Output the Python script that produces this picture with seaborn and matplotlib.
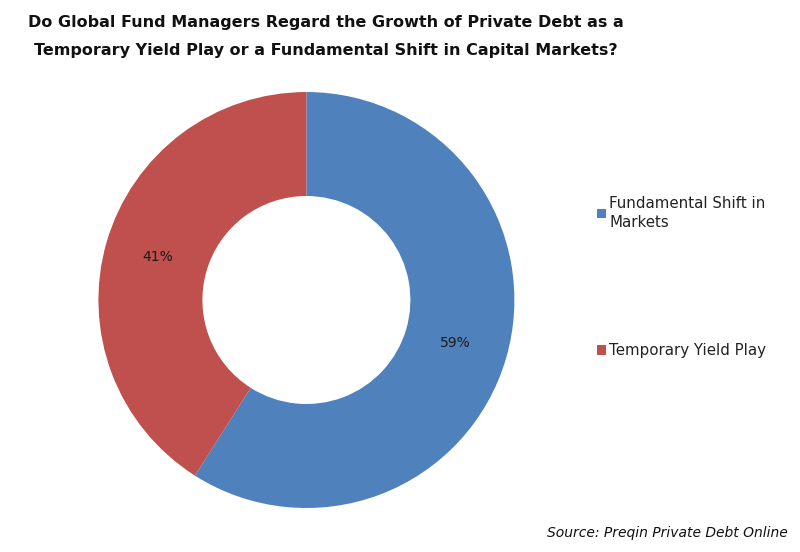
import matplotlib
matplotlib.use("Agg")
import matplotlib.pyplot as plt
import seaborn as sns

categories = ["Fundamental Shift in\nMarkets", "Temporary Yield Play"]
values = [59, 41]
colors = ["#4F81BD", "#C0504D"]
title = ("Do Global Fund Managers Regard the Growth of Private Debt as a\n"
         "Temporary Yield Play or a Fundamental Shift in Capital Markets?")
source = "Source: Preqin Private Debt Online"

sns.set_theme(style="white")
plt.rcParams['font.family'] = ['DejaVu Sans']

fig = plt.figure(figsize=(8, 5.52), dpi=100)
fig.patch.set_facecolor("white")
ax = fig.add_axes([0.123, 0.0797, 0.52, 0.7536])

wedges, texts, autotexts = ax.pie(
    values, colors=colors, startangle=90, counterclock=False,
    autopct="%1.0f%%", pctdistance=0.745, radius=1.0,
    wedgeprops=dict(width=0.5, edgecolor="none"),
    textprops=dict(fontsize=10, color="#1a1a1a"))
ax.set_xlim(-1, 1)
ax.set_ylim(-1, 1)
ax.set_aspect("equal")
ax.axis("off")

fig.text(0.407, 0.972, title, ha="center", va="top", fontsize=11.5,
         fontweight="bold", color="#111111", linespacing=2.07)

leg = fig.legend(wedges, categories, loc="upper left",
                 bbox_to_anchor=(0.729, 0.67), frameon=False,
                 fontsize=10.8, handlelength=0.6, handleheight=0.6,
                 handletextpad=0.25, labelspacing=7.55)
for t in leg.get_texts():
    t.set_color("#222222")
    t.set_linespacing(1.35)

fig.text(0.985, 0.035, source, ha="right", va="center", fontsize=10,
         fontstyle="italic", color="#111111")

fig.savefig("out.png", dpi=100, facecolor="white")
